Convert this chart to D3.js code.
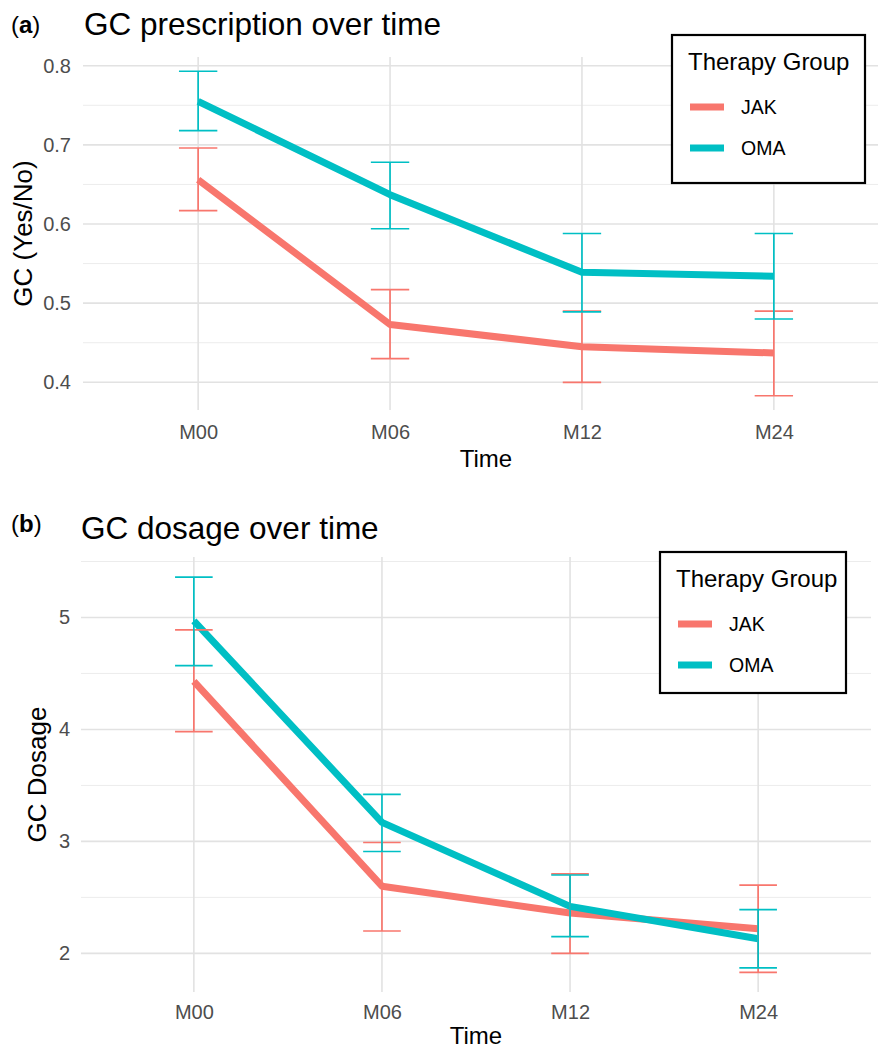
<!DOCTYPE html>
<html>
<head>
<meta charset="utf-8">
<script src="https://cdn.jsdelivr.net/npm/d3@7"></script>
<style>
  html, body { margin: 0; padding: 0; background: #fff; }
  svg { display: block; font-family: "Liberation Sans", Arial, sans-serif; }
</style>
</head>
<body>
<script>
// categories / groups
const timepoints = ['M00', 'M06', 'M12', 'M24'];
const groups = ['JAK', 'OMA'];
const groupColors = ['#F8766D', '#00BFC4'];

// (a) GC prescription, proportion yes
const rxJakMean = [0.656, 0.473, 0.445, 0.437];
const rxJakLow  = [0.617, 0.430, 0.400, 0.383];
const rxJakHigh = [0.696, 0.517, 0.490, 0.490];
const rxOmaMean = [0.755, 0.637, 0.539, 0.534];
const rxOmaLow  = [0.718, 0.594, 0.489, 0.480];
const rxOmaHigh = [0.793, 0.678, 0.588, 0.588];

// (b) GC dosage
const doseJakMean = [4.43, 2.60, 2.36, 2.22];
const doseJakLow  = [3.98, 2.20, 2.00, 1.83];
const doseJakHigh = [4.89, 2.99, 2.71, 2.61];
const doseOmaMean = [4.97, 3.17, 2.42, 2.13];
const doseOmaLow  = [4.57, 2.91, 2.15, 1.87];
const doseOmaHigh = [5.36, 3.42, 2.70, 2.39];

// tick labels
const rxTicks = [0.4, 0.5, 0.6, 0.7, 0.8];
const rxMinor = [0.45, 0.55, 0.65, 0.75];
const doseTicks = [2, 3, 4, 5];
const doseMinor = [2.5, 3.5, 4.5, 5.5];

const svg = d3.select('body').append('svg')
    .attr('width', 878)
    .attr('height', 1050);

const rows = (means, lows, highs) =>
    timepoints.map((t, i) => ({ t, mean: means[i], low: lows[i], high: highs[i] }));

function drawPanel(p) {
    const g = svg.append('g');

    const x = d3.scalePoint().domain(timepoints).range([p.left, p.right]).padding(0.6);
    const y = d3.scaleLinear().domain(p.yDomain).range([p.bottom, p.top]);

    // grid: minor first, then major
    g.selectAll('line.minor').data(p.minor).join('line')
        .attr('x1', p.left).attr('x2', p.right)
        .attr('y1', d => y(d)).attr('y2', d => y(d))
        .attr('stroke', '#ececec').attr('stroke-width', 1);
    g.selectAll('line.hmaj').data(p.ticks).join('line')
        .attr('x1', p.left).attr('x2', p.right)
        .attr('y1', d => y(d)).attr('y2', d => y(d))
        .attr('stroke', '#e2e2e2').attr('stroke-width', 1.6);
    g.selectAll('line.vmaj').data(timepoints).join('line')
        .attr('x1', d => x(d)).attr('x2', d => x(d))
        .attr('y1', p.top).attr('y2', p.bottom)
        .attr('stroke', '#e2e2e2').attr('stroke-width', 1.6);

    // axes (labels only)
    const yAxis = g.append('g')
        .attr('transform', `translate(${p.left},0)`)
        .call(d3.axisLeft(y).tickValues(p.ticks).tickFormat(p.fmt).tickSize(0).tickPadding(p.left - p.yLabelX));
    yAxis.select('.domain').remove();
    yAxis.selectAll('text')
        .attr('font-family', '"Liberation Sans", Arial, sans-serif')
        .attr('font-size', 20).attr('fill', '#4d4d4d');

    const xAxis = g.append('g')
        .attr('transform', `translate(0,${p.bottom})`)
        .call(d3.axisBottom(x).tickSize(0).tickPadding(0));
    xAxis.select('.domain').remove();
    xAxis.selectAll('text')
        .attr('dy', null)
        .attr('y', p.xLabelY - p.bottom)
        .attr('font-family', '"Liberation Sans", Arial, sans-serif')
        .attr('font-size', 20).attr('fill', '#4d4d4d');

    // series lines
    const line = d3.line().x(d => x(d.t)).y(d => y(d.mean));
    p.series.forEach((s, i) => {
        g.append('path').datum(s)
            .attr('d', line)
            .attr('fill', 'none')
            .attr('stroke', groupColors[i])
            .attr('stroke-width', 7)
            .attr('stroke-linejoin', 'round');
    });

    // error bars
    const hw = x.step() * 0.1;
    p.series.forEach((s, i) => {
        const eb = g.append('g').attr('stroke', groupColors[i]).attr('stroke-width', 1.7).attr('fill', 'none');
        eb.selectAll('line.v').data(s).join('line')
            .attr('x1', d => x(d.t)).attr('x2', d => x(d.t))
            .attr('y1', d => y(d.low)).attr('y2', d => y(d.high));
        eb.selectAll('line.hi').data(s).join('line')
            .attr('x1', d => x(d.t) - hw).attr('x2', d => x(d.t) + hw)
            .attr('y1', d => y(d.high)).attr('y2', d => y(d.high));
        eb.selectAll('line.lo').data(s).join('line')
            .attr('x1', d => x(d.t) - hw).attr('x2', d => x(d.t) + hw)
            .attr('y1', d => y(d.low)).attr('y2', d => y(d.low));
    });

    // titles
    const tag = g.append('text').attr('x', 11).attr('y', p.tagY).attr('font-size', 24).attr('fill', '#000');
    tag.append('tspan').text('(');
    tag.append('tspan').attr('font-weight', 'bold').text(p.tag);
    tag.append('tspan').text(')');

    g.append('text')
        .attr('x', p.titleX).attr('y', p.titleY)
        .attr('font-size', 31.5).attr('fill', '#000')
        .text(p.title);

    g.append('text')
        .attr('x', (p.left + p.right) / 2).attr('y', p.xTitleY)
        .attr('text-anchor', 'middle')
        .attr('font-size', 24).attr('fill', '#000')
        .text('Time');

    g.append('text')
        .attr('transform', `translate(${p.yTitleX},${(p.top + p.bottom) / 2}) rotate(-90)`)
        .attr('text-anchor', 'middle')
        .attr('font-size', 26).attr('fill', '#000')
        .text(p.yTitle);

    // legend
    const L = p.legend;
    const lg = g.append('g');
    lg.append('rect')
        .attr('x', L.x).attr('y', L.y).attr('width', L.w).attr('height', L.h)
        .attr('fill', '#fff').attr('stroke', '#000').attr('stroke-width', 2.2);
    lg.append('text')
        .attr('x', L.x + 16).attr('y', L.y + 35)
        .attr('font-size', 24).attr('fill', '#000')
        .text('Therapy Group');
    groups.forEach((name, i) => {
        const cy = L.y + 72 + i * 41;
        lg.append('rect')
            .attr('x', L.x + 18).attr('y', cy - 3.5).attr('width', 34).attr('height', 7)
            .attr('fill', groupColors[i]);
        lg.append('text')
            .attr('x', L.x + 69).attr('y', cy + 7)
            .attr('font-size', 19.5).attr('fill', '#000')
            .text(name);
    });
}

drawPanel({
    left: 83, right: 889, top: 57, bottom: 410,
    yDomain: [0.365, 0.811],
    ticks: rxTicks, minor: rxMinor, fmt: d3.format('.1f'),
    yLabelX: 71, xLabelY: 439, xTitleY: 467, yTitleX: 32,
    tag: 'a', tagY: 33, title: 'GC prescription over time', titleX: 84, titleY: 35,
    yTitle: 'GC (Yes/No)',
    legend: { x: 672, y: 35, w: 193, h: 148 },
    series: [rows(rxJakMean, rxJakLow, rxJakHigh), rows(rxOmaMean, rxOmaLow, rxOmaHigh)]
});

drawPanel({
    left: 81, right: 871, top: 557, bottom: 992,
    yDomain: [1.655, 5.54],
    ticks: doseTicks, minor: doseMinor, fmt: d3.format('d'),
    yLabelX: 70, xLabelY: 1019, xTitleY: 1044, yTitleX: 46,
    tag: 'b', tagY: 532, title: 'GC dosage over time', titleX: 81, titleY: 539,
    yTitle: 'GC Dosage',
    legend: { x: 660, y: 552, w: 186, h: 141 },
    series: [rows(doseJakMean, doseJakLow, doseJakHigh), rows(doseOmaMean, doseOmaLow, doseOmaHigh)]
});
</script>
</body>
</html>
